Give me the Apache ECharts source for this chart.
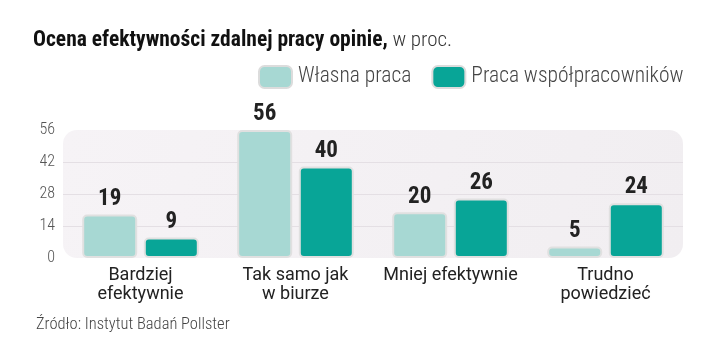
<!DOCTYPE html>
<html><head><meta charset="utf-8">
<script src="https://cdn.jsdelivr.net/npm/echarts@6/dist/echarts.min.js"></script>
<style>html,body{margin:0;padding:0;background:#fff}#c{width:720px;height:364px}</style>
</head><body><div id="c"></div>
<script>
const categories = ['Bardziej\nefektywnie', 'Tak samo jak\nw biurze', 'Mniej efektywnie', 'Trudno\npowiedzieć'];
const seriesNames = ['Własna praca', 'Praca współpracowników'];
const ownWork = [19, 56, 20, 5];
const coworkers = [9, 40, 26, 24];
const yTicks = [0, 14, 28, 42, 56];

const COND = '"Roboto Condensed", "Open Sans Condensed", sans-serif';
const chart = echarts.init(document.getElementById('c'));
const labelFont = {show: true, position: 'top', distance: 4, fontFamily: COND, fontWeight: 'bold', fontSize: 23, color: '#222'};
const option = {
  animation: false,
  title: {
    left: 28, top: 25,
    text: '{b|Ocena efektywności zdalnej pracy opinie,}{r| w proc.}',
    textStyle: {
      rich: {
        b: {fontFamily: COND, fontWeight: 'bold', fontSize: 21.5, color: '#111'},
        r: {fontFamily: COND, fontWeight: 300, fontSize: 21, color: '#333'}
      }
    }
  },
  legend: {
    left: 253, top: 60,
    itemWidth: 33, itemHeight: 22, itemGap: 20,
    icon: 'roundRect',
    textStyle: {fontFamily: COND, fontWeight: 300, fontSize: 21.5, color: '#444', padding: [0,0,0,1]},
    data: seriesNames.map(n => ({name: n, itemStyle: {borderColor: '#dcdcdc', borderWidth: 2}}))
  },
  graphic: [{
    type: 'text', left: 36, top: 316,
    style: {text: 'Źródło: Instytut Badań Pollster', fontFamily: COND, fontWeight: 300, fontSize: 16.5, fill: '#444'}
  }],
  grid: {left: 63, right: 37, top: 130, bottom: 106},
  xAxis: {
    type: 'category', data: categories,
    axisLine: {show: false}, axisTick: {show: false},
    axisLabel: {interval: 0, margin: 8, fontFamily: 'Roboto, sans-serif', fontSize: 18, lineHeight: 19, color: '#222'}
  },
  yAxis: {
    type: 'value', min: 0, max: 56, interval: 14,
    axisLine: {show: false}, axisTick: {show: false},
    axisLabel: {margin: 8, fontFamily: COND, fontWeight: 300, fontSize: 16, color: '#555',
      formatter: v => yTicks.includes(v) ? String(v) : ''},
    splitLine: {showMinLine: false, showMaxLine: false, lineStyle: {color: '#e4dfe4', width: 1}}
  },
  series: [
    {name: seriesNames[0], type: 'bar', data: ownWork, barWidth: 55, barGap: '12%', z: 3,
     itemStyle: {color: '#a7d8d3', borderColor: '#e0e0e0', borderWidth: 2, borderRadius: 4},
     label: labelFont},
    {name: seriesNames[1], type: 'bar', data: coworkers, barWidth: 55, z: 3,
     itemStyle: {color: '#08a597', borderColor: '#e0e0e0', borderWidth: 2, borderRadius: 4},
     label: labelFont}
  ]
};
chart.setOption(option);
// rounded background panel behind the plot area, sized from the axes
const yTop = chart.convertToPixel({yAxisIndex: 0}, 56);
const yBot = chart.convertToPixel({yAxisIndex: 0}, 0);
const gm = chart.getModel().getComponent('grid', 0).coordinateSystem.getRect();
chart.setOption({graphic: [
  option.graphic[0],
  {type: 'rect', z: -1, silent: true,
   shape: {x: gm.x, y: yTop, width: gm.width, height: yBot - yTop, r: 14},
   style: {fill: new echarts.graphic.LinearGradient(0, 0, 1, 1, [{offset: 0, color: '#f6f3f6'}, {offset: 1, color: '#f1eef1'}])}}
]});
</script></body></html>
